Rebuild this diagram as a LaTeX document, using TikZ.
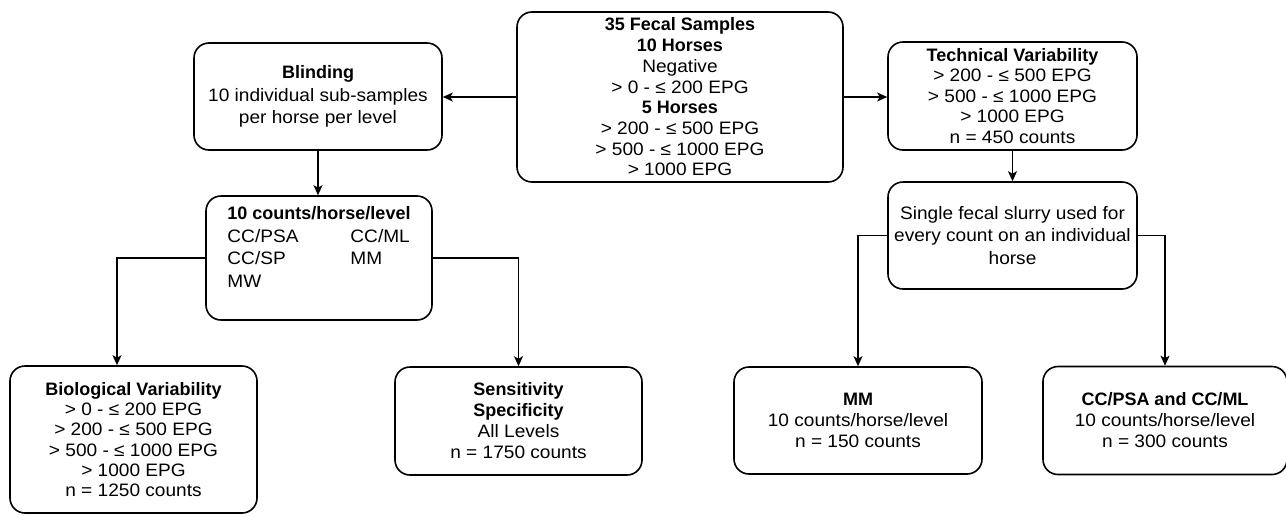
\documentclass[tikz,border=0pt]{standalone}
\usepackage{fontspec}
\setmainfont{Liberation Sans}[UprightFeatures={FakeStretch=1.06}]
\usetikzlibrary{arrows.meta}

\begin{document}
\begin{tikzpicture}[x=1pt, y=-1pt,
    box/.style={draw, rounded corners=15pt, line width=1.6pt, align=center, inner sep=0pt,
        font=\fontsize{18}{21}\selectfont},
    arr/.style={-{Stealth[length=10pt,width=9pt,inset=2.5pt]}, line width=1.6pt}]
    \useasboundingbox (0,0) rectangle (1286,517);

    % top row
    \node[box, minimum width=326pt, minimum height=170pt, font=\fontsize{18}{20.7}\selectfont]
        (samples) at (680,97) {\textbf{35 Fecal Samples}\\ \textbf{10 Horses}\\ Negative\\
        > 0 - ≤ 200 EPG\\ \textbf{5 Horses}\\ > 200 - ≤ 500 EPG\\ > 500 - ≤ 1000 EPG\\ > 1000 EPG};
    \node[box, minimum width=248pt, minimum height=107pt, font=\fontsize{18}{22.5}\selectfont]
        (blinding) at (318,96.5) {\textbf{Blinding}\\ 10 individual sub-samples\\ per horse per level};
    \node[box, minimum width=249pt, minimum height=108pt, font=\fontsize{18}{20.5}\selectfont]
        (technical) at (1012.5,96) {\textbf{Technical Variability}\\ > 200 - ≤ 500 EPG\\
        > 500 - ≤ 1000 EPG\\ > 1000 EPG\\ n = 450 counts};

    % middle row
    \node[box, minimum width=226pt, minimum height=124pt] (counts) at (319,258)
        {\renewcommand{\arraystretch}{1.07}%
        \begin{tabular}{@{}p{123pt}@{}l@{}}
        \multicolumn{2}{@{}l@{}}{\textbf{10 counts/horse/level}}\\
        CC/PSA & CC/ML\\
        CC/SP & MM\\
        MW & \\[18pt]
        \end{tabular}};
    \node[box, minimum width=249pt, minimum height=107pt, font=\fontsize{18}{22.5}\selectfont]
        (slurry) at (1012.5,235.5) {Single fecal slurry used for\\ every count on an individual\\ horse};

    % bottom row
    \node[box, minimum width=247pt, minimum height=147pt, font=\fontsize{18}{20.3}\selectfont]
        (bio) at (133.5,439.5) {\textbf{Biological Variability}\\ > 0 - ≤ 200 EPG\\ > 200 - ≤ 500 EPG\\
        > 500 - ≤ 1000 EPG\\ > 1000 EPG\\ n = 1250 counts};
    \node[box, minimum width=247pt, minimum height=108pt] (sens) at (518.5,421)
        {\textbf{Sensitivity}\\ \textbf{Specificity}\\ All Levels\\ n = 1750 counts};
    \node[box, minimum width=248pt, minimum height=107pt] (mm) at (858,420.5)
        {\textbf{MM}\\ 10 counts/horse/level\\ n = 150 counts};
    \node[box, minimum width=244pt, minimum height=108pt] (cc) at (1165,420.5)
        {\textbf{CC/PSA and CC/ML}\\ 10 counts/horse/level\\ n = 300 counts};

    % connectors
    \draw[arr] (samples.west) -- (samples.west -| blinding.east);
    \draw[arr] (samples.east) -- (samples.east -| technical.west);
    \draw[arr] (blinding.south) -- (blinding.south |- counts.north);
    \draw[arr] (technical.south) -- (technical.south |- slurry.north);
    \draw[arr] (counts.west) -| ([xshift=-16.5pt]bio.north);
    \draw[arr] (counts.east) -| (sens.north);
    \draw[arr] (slurry.west) -| (mm.north);
    \draw[arr] (slurry.east) -| (cc.north);
\end{tikzpicture}
\end{document}
